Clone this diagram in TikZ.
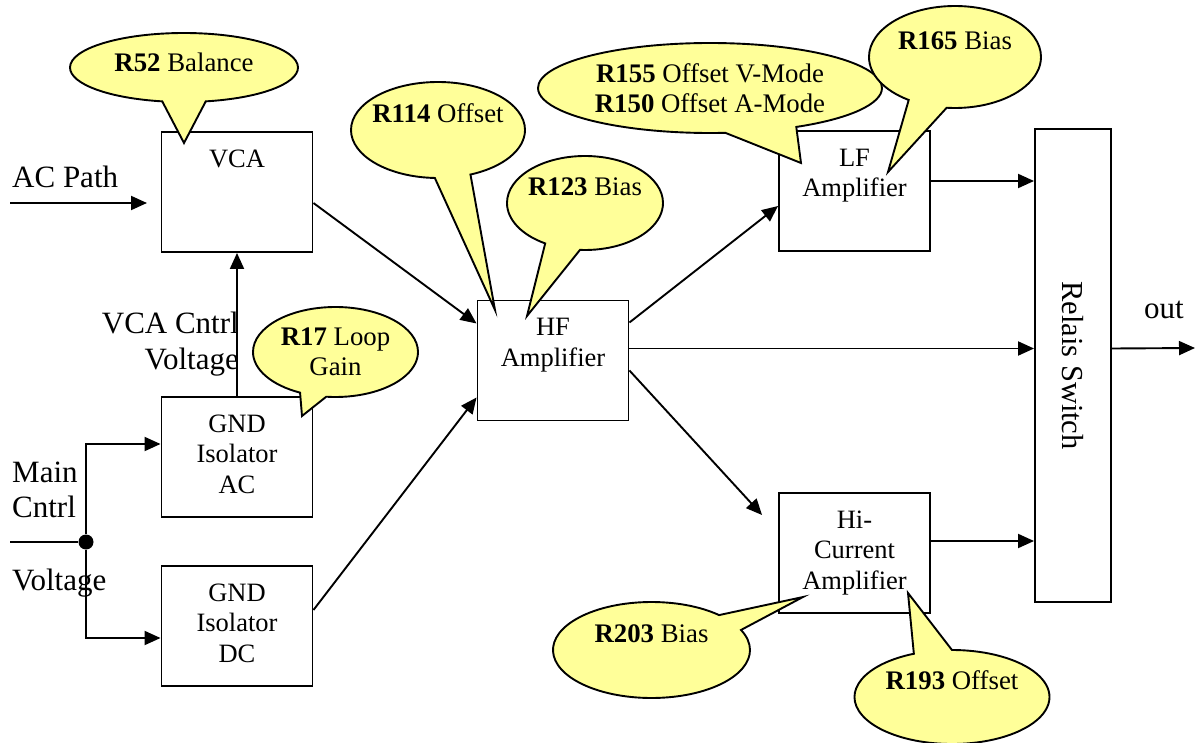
\documentclass[tikz,border=0pt]{standalone}
\usepackage{fontspec}
\setmainfont{Liberation Serif}
\usepackage{graphicx}
\usepackage{xcolor}
\usepackage{tikz}
\usetikzlibrary{arrows.meta,positioning,shapes.callouts}

\definecolor{noteyellow}{HTML}{FFFF99}

\newcommand{\blocktext}[1]{\parbox[c][120bp][t]{151bp}{\centering\rule{0pt}{35bp}#1}}
\newcommand{\trimnote}[2]{\makebox[0pt]{\textbf{#1} #2}}

\begin{document}
\begin{tikzpicture}[
  x=1bp, y=-1bp,
  block/.style={
    draw,
    line width=1.9bp,
    inner sep=0pt,
    font=\fontsize{26.5bp}{30.5bp}\selectfont
  },
  note/.style={
    ellipse callout,
    draw,
    fill=noteyellow,
    line width=1.9bp,
    inner sep=0pt,
    align=center,
    font=\fontsize{26.8bp}{30bp}\selectfont
  },
  oneline/.style={text height=18bp, text depth=#1},
  oneline/.default=34bp,
  lbl/.style={inner sep=0pt, font=\fontsize{31bp}{35.5bp}\selectfont},
  dot/.style={circle, fill, inner sep=0pt, minimum size=15bp},
  arrow/.style={-{Triangle[length=16bp,width=14bp]}, line width=1.9bp},
  wire/.style={line width=1.9bp}
]
\useasboundingbox (0,0) rectangle (1195,743);

% blocks
\node[block] (vca)   at (237,192)   {\blocktext{VCA}};
\node[block] (gndac) at (237,457)   {\blocktext{GND\\Isolator\\AC}};
\node[block] (gnddc) at (237,626)   {\blocktext{GND\\Isolator\\DC}};
\node[block] (hf)    at (553,360.5) {\blocktext{HF\\Amplifier}};
\node[block] (lf)    at (854.5,191) {\blocktext{LF\\Amplifier}};
\node[block] (hicur) at (854.5,553) {\blocktext{Hi-\\Current\\Amplifier}};
\node[block, minimum width=76bp, minimum height=473bp] (relais) at (1073,365.5)
  {\rotatebox{-90}{\fontsize{30.5bp}{35bp}\selectfont Relais Switch}\hspace{14bp}};

% inputs and labels
\coordinate (acin)  at (10,203);
\coordinate (acend) at (147,203);
\coordinate (mcin)  at (10,542);
\coordinate (outend) at (1195,348);
\node[dot] (jn) at (86,542) {};

\node[lbl, anchor=base west] (acpath) at (12,187) {AC Path};
\node[lbl, align=right, anchor=east] (vcactl) at (239,344) {VCA Cntrl\\Voltage};
\node[lbl, align=left, anchor=west] (mainctl) at (12,490) {Main\\Cntrl};
\node[lbl, anchor=base west] (mainvolt) at (12,590) {Voltage};
\node[lbl, anchor=base] (outlbl) at (1164,318) {out};

% signal path
\draw[arrow] (acin) -- (acend);
\draw[wire] (mcin) -- (jn);
\draw[arrow] (jn) |- ([yshift=13bp]gndac.west);
\draw[arrow] (jn) |- ([yshift=-12bp]gnddc.west);
\draw[arrow] (gndac) -- (vca);
\draw[arrow] ([yshift=-11bp]vca.east) -- ([yshift=37bp]hf.west);
\draw[arrow] ([yshift=16bp]gnddc.east) -- ([yshift=-37bp]hf.west);
\draw[arrow] ([yshift=38bp]hf.east) -- ([yshift=-15bp]lf.west);
\draw[arrow] ([yshift=12bp]hf.east) -- ([yshift=12bp]hf.east -| relais.west);
\draw[arrow] ([yshift=-10bp]hf.east) -- ([xshift=-16bp,yshift=38bp]hicur.west);
\draw[arrow] ([yshift=10bp]lf.east) -- ([yshift=10bp]lf.east -| relais.west);
\draw[arrow] ([yshift=12bp]hicur.east) -- ([yshift=12bp]hicur.east -| relais.west);
\draw[arrow] ([yshift=12bp]hf.east -| relais.east) -- (outend);

% trimmer callouts
\node[note, oneline=10bp, minimum width=228bp, minimum height=69bp,
  callout pointer arc=22, callout absolute pointer={(184,143)}]
  (r52) at (184,67.5) {\trimnote{R52}{Balance}};
\node[note, oneline, minimum width=174bp, minimum height=96bp,
  callout pointer arc=24, callout absolute pointer={(495,310)}]
  (r114) at (438,130) {\trimnote{R114}{Offset}};
\node[note, oneline, minimum width=156bp, minimum height=94bp,
  callout pointer arc=27, callout absolute pointer={(527,316)}]
  (r123) at (585,203) {\trimnote{R123}{Bias}};
\node[note, minimum width=344bp, minimum height=90bp,
  callout pointer arc=25, callout absolute pointer={(801,163)}]
  (r155) at (710,88) {\textbf{R155} Offset V-Mode\\\textbf{R150} Offset A-Mode};
\node[note, oneline=32bp, minimum width=172bp, minimum height=102bp,
  callout pointer arc=27, callout absolute pointer={(888,172)}]
  (r165) at (955,57) {\trimnote{R165}{Bias}};
\node[note, minimum width=165bp, minimum height=90bp,
  callout pointer arc=19, callout absolute pointer={(302,416)}]
  (r17) at (335.5,352) {\textbf{R17} Loop\\Gain};
\node[note, oneline, minimum width=197bp, minimum height=96bp,
  callout pointer arc=22, callout absolute pointer={(803,597)}]
  (r203) at (651.5,650) {\trimnote{R203}{Bias}};
\node[note, oneline, minimum width=195bp, minimum height=94bp,
  callout pointer arc=23, callout absolute pointer={(908,593)}]
  (r193) at (952,697) {\trimnote{R193}{Offset}};
\end{tikzpicture}
\end{document}
